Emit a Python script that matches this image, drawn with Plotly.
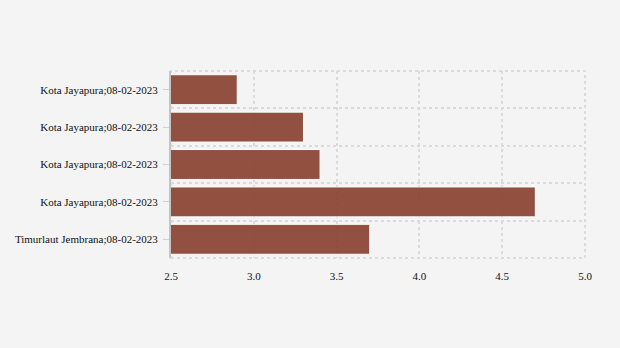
import plotly.graph_objects as go

categories = [
    "Timurlaut Jembrana;08-02-2023",
    "Kota Jayapura;08-02-2023",
    "Kota Jayapura;08-02-2023",
    "Kota Jayapura;08-02-2023",
    "Kota Jayapura;08-02-2023",
]
values = [3.7, 4.7, 3.4, 3.3, 2.9]
x_ticks = [2.5, 3.0, 3.5, 4.0, 4.5, 5.0]
x_tick_labels = ["2.5", "3.0", "3.5", "4.0", "4.5", "5.0"]

positions = list(range(len(categories)))

fig = go.Figure(
    go.Bar(
        x=values,
        y=positions,
        orientation="h",
        width=0.8,
        base=0,
        marker=dict(color="#883f2e", opacity=0.9, line=dict(color="#ffffff", width=1)),
        hoverinfo="x",
    )
)

fig.update_layout(
    width=620,
    height=348,
    margin=dict(l=171, r=35, t=71, b=90),
    paper_bgcolor="#f4f4f4",
    plot_bgcolor="#f4f4f4",
    font=dict(family="Liberation Serif, Times New Roman, serif", size=11, color="#111111"),
    showlegend=False,
    bargap=0.2,
)

# dotted plot frame (grid lines at the plot edges)
fig.add_shape(
    type="rect",
    xref="x domain", yref="y domain",
    x0=0, x1=1, y0=0, y1=1,
    line=dict(color="#dadada", width=2, dash="dot"),
    layer="below",
)

fig.update_xaxes(
    range=[2.5, 5.0],
    tickvals=x_ticks,
    ticktext=x_tick_labels,
    showgrid=True,
    gridcolor="#dadada",
    gridwidth=2,
    griddash="dot",
    zeroline=False,
    showline=False,
    ticks="",
    ticklabelstandoff=10,
)

fig.update_yaxes(
    range=[-0.5, len(categories) - 0.5],
    tickvals=positions,
    ticktext=categories,
    showgrid=False,
    zeroline=False,
    showline=True,
    linecolor="#c4c4c4",
    linewidth=2,
    ticks="outside",
    ticklen=6,
    tickcolor="#d0d0d0",
    ticklabelstandoff=3,
    minor=dict(
        tick0=0.5,
        dtick=1,
        showgrid=True,
        gridcolor="#dadada",
        gridwidth=2,
        griddash="dot",
        ticks="",
    ),
)

fig.write_html("out.html")
